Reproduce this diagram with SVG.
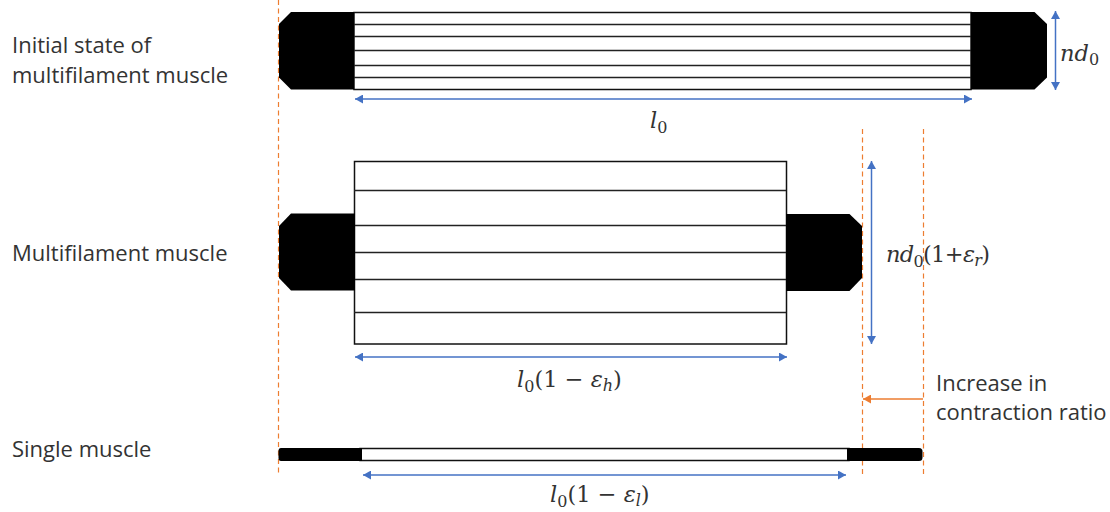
<svg xmlns="http://www.w3.org/2000/svg" width="1110" height="512" viewBox="0 0 1110 512">
<style>
.lbl{font-family:"Open Sans","Noto Sans",sans-serif;font-size:22px;fill:#333}
.m{font-family:"DejaVu Serif","Liberation Serif",serif;font-size:22.500px;fill:#333}
.i{font-style:italic}
.s{font-size:16px}
.cap{fill:#000}
.ln{stroke:#222;stroke-width:1.300;fill:none}
.box{stroke:#111;stroke-width:1.500;fill:#fff}
.blue{stroke:#4472c4;stroke-width:1.500;fill:none;marker-start:url(#bs);marker-end:url(#be)}
.guide{stroke:#ed7d31;stroke-width:1.200;stroke-dasharray:5 3.500;fill:none}
</style>
<defs>
<marker id="be" markerUnits="userSpaceOnUse" markerWidth="9" markerHeight="9" refX="8" refY="4.500" orient="auto"><path d="M0 0L8 4.500L0 9Z" fill="#4472c4"/></marker>
<marker id="bs" markerUnits="userSpaceOnUse" markerWidth="9" markerHeight="9" refX="0" refY="4.500" orient="auto"><path d="M8 0L0 4.500L8 9Z" fill="#4472c4"/></marker>
<marker id="oe" markerUnits="userSpaceOnUse" markerWidth="9" markerHeight="9" refX="8" refY="4.500" orient="auto"><path d="M0 0L8 4.500L0 9Z" fill="#ed7d31"/></marker>
</defs>
<g id="connectors">
<path class="guide" d="M278.500 0V475"/>
<path class="guide" d="M862.500 129V475"/>
<path class="guide" d="M923.500 129V475"/>
<path class="blue" d="M355 99H972"/>
<path class="blue" d="M1055.500 11V90"/>
<path class="blue" d="M355 357H787"/>
<path class="blue" d="M871.500 161V344"/>
<path class="blue" d="M363 475H846"/>
<path d="M923 399H863" stroke="#ed7d31" stroke-width="1.300" fill="none" marker-end="url(#oe)"/>
</g>
<g id="muscle-initial">
<rect class="box" x="354" y="12.500" width="617" height="77"/>
<path class="ln" d="M354 24.500H971M354 36.500H971M354 50.500H971M354 65.500H971M354 77.500H971"/>
<path class="cap" d="M291 12H354V89.500H291L279 77.500V24Z"/>
<path class="cap" d="M971 12H1034.500L1047 24V77.500L1034.500 89.500H971Z"/>
</g>
<g id="muscle-multifilament">
<rect class="box" x="354.500" y="161.500" width="432" height="182.500"/>
<path class="ln" d="M354 190.500H786M354 225.500H786M354 252.500H786M354 279.500H786M354 312.500H786"/>
<path class="cap" d="M291 213.500H355V290.500H291L279 278V226Z"/>
<path class="cap" d="M786 214H849.500L862 226V278L849.500 291H786Z"/>
</g>
<g id="muscle-single">
<rect class="box" x="360" y="448.500" width="489" height="12"/>
<path class="cap" d="M281 448H362V461H281Q278.500 461 278.500 458V451Q278.500 448 281 448Z"/>
<path class="cap" d="M847 448H919Q922.500 448 922.500 451.500V457.500Q922.500 461 919 461H847Z"/>
</g>
<g id="labels">
<text class="lbl" x="12" y="53">Initial state of</text>
<text class="lbl" x="12" y="83">multifilament muscle</text>
<text class="lbl" x="12" y="261">Multifilament muscle</text>
<text class="lbl" x="12" y="457">Single muscle</text>
<text class="lbl" x="936" y="391">Increase in</text>
<text class="lbl" x="936" y="420">contraction ratio</text>
<text class="m" x="650" y="128"><tspan class="i">l</tspan><tspan class="s" dy="5">0</tspan></text>
<text class="m" x="1060" y="61"><tspan class="i">nd</tspan><tspan class="s" dy="4">0</tspan></text>
<text class="m" x="886" y="262" textLength="104"><tspan class="i">nd</tspan><tspan class="s" dy="5">0</tspan><tspan dy="-5">(1+</tspan><tspan class="i">ε</tspan><tspan class="s i" dy="4">r</tspan><tspan dy="-4">)</tspan></text>
<text class="m" x="517" y="387"><tspan class="i">l</tspan><tspan class="s" dy="5">0</tspan><tspan dy="-5">(1 − </tspan><tspan class="i">ε</tspan><tspan class="s i" dy="4">h</tspan><tspan dy="-4">)</tspan></text>
<text class="m" x="550" y="502"><tspan class="i">l</tspan><tspan class="s" dy="5">0</tspan><tspan dy="-5">(1 − </tspan><tspan class="i">ε</tspan><tspan class="s i" dy="4">l</tspan><tspan dy="-4">)</tspan></text>
</g>
</svg>
